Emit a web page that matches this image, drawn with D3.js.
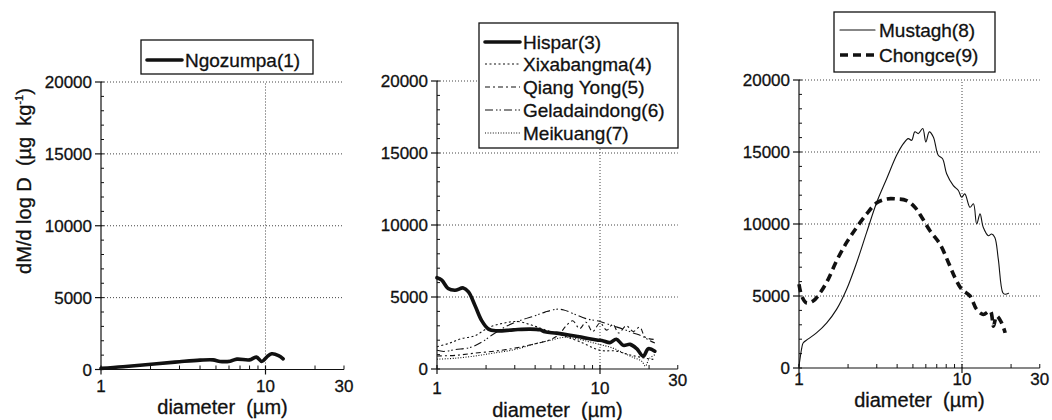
<!DOCTYPE html>
<html>
<head>
<meta charset="utf-8">
<script src="https://cdn.jsdelivr.net/npm/d3@7"></script>
<style>
  body { margin: 0; background: #fff; }
  svg { font-family: "Liberation Sans", Arial, sans-serif; }
  text { fill: #111; stroke: #111; stroke-width: 0.3px; white-space: pre; }
</style>
</head>
<body>
<svg id="chart" width="1052" height="420"></svg>
<script>
// [diameter (um), dM/dlogD (ug/kg)]
const ngozumpa = [
  [1, 80], [1.36, 190], [2.18, 400], [3.0, 540], [4.0, 650], [4.8, 670], [5.3, 560],
  [6.1, 580], [6.7, 720], [8.0, 670], [8.8, 860], [9.5, 560], [10.2, 880],
  [10.9, 1090], [12.0, 970], [12.8, 740]
];
const hispar = [
  [1, 6340], [1.07, 6170], [1.17, 5590], [1.29, 5470], [1.45, 5630], [1.56, 5350],
  [1.71, 4410], [1.88, 3360], [2.07, 2770], [2.32, 2650], [2.94, 2720], [3.72, 2770],
  [4.29, 2720], [4.6, 2580], [5.42, 2490], [6.55, 2350], [7.9, 2180], [9.55, 2020],
  [10.5, 1950], [11.5, 1830], [12.6, 2070], [13.9, 1640], [15.3, 1710], [16.8, 1410],
  [18.4, 890], [19.8, 1410], [21.7, 1240]
];
const xixabangma = [
  [1, 1550], [1.2, 1800], [1.4, 2100], [1.7, 2300], [2.1, 2900], [2.6, 3200],
  [3.1, 3300], [3.8, 3050], [4.8, 2650], [6.0, 2300], [7.5, 1900], [10, 1300],
  [12.5, 1250], [15, 1000], [18, 800], [21.7, 650]
];
const qiangYong = [
  [1, 900], [1.3, 950], [1.7, 1100], [2.3, 1250], [3.0, 1450], [4.0, 1750],
  [5.0, 2050], [5.6, 2400], [6.2, 3000], [6.8, 3350], [7.5, 2800], [8.2, 3250],
  [9.0, 2600], [10, 3200], [11, 2700], [12, 3100], [13, 2500], [14.5, 3000],
  [16, 2600], [17.5, 2900], [19, 2200], [21.7, 2050]
];
const geladaindong = [
  [1, 1300], [1.1, 1220], [1.3, 1350], [1.6, 1500], [1.9, 1900], [2.2, 2400],
  [2.7, 3000], [3.3, 3400], [4.0, 3700], [4.6, 3950], [5.4, 4150], [6.0, 4100],
  [7.0, 3800], [8.2, 3500], [10, 3300], [12, 3000], [14, 2750], [16, 2500],
  [18, 2300], [20, 2000], [21.7, 1800]
];
const meikuang = [
  [1, 680], [1.3, 750], [1.7, 900], [2.2, 1100], [3.0, 1350], [4.0, 1750],
  [5.0, 2000], [6.0, 2200], [7.2, 2100], [8.5, 1900], [10, 1700], [12, 1450],
  [14, 1100], [16, 800], [18, 550], [19, 200], [20, 700], [21.7, 1000]
];
const mustagh = [
  [1, 120], [1.04, 1400], [1.06, 1740], [1.14, 2020], [1.28, 2440], [1.48, 3140],
  [1.7, 4070], [1.96, 5470], [2.26, 7330], [2.6, 9420], [3.0, 11510], [3.45, 13140],
  [3.97, 14770], [4.37, 15580], [4.68, 15930], [4.91, 15810], [5.14, 16400],
  [5.4, 16280], [5.74, 16630], [6.0, 15700], [6.3, 16400], [6.67, 16050],
  [7.15, 14770], [7.6, 14530], [8.05, 13490], [8.85, 12670], [9.5, 12330],
  [9.95, 11860], [10.4, 12090], [11.2, 11160], [11.75, 11400], [12.3, 10000],
  [12.9, 10700], [13.5, 9770], [14.5, 9190], [15.2, 9300], [15.9, 9070],
  [16.7, 7560], [17.8, 5230], [18.4, 5120], [19.3, 5190]
];
const chongce = [
  [1, 5810], [1.04, 5000], [1.11, 4530], [1.22, 4650], [1.35, 5230], [1.51, 6160],
  [1.7, 7440], [1.96, 8720], [2.26, 9770], [2.6, 10700], [3.0, 11470], [3.45, 11740],
  [3.97, 11740], [4.57, 11630], [5.14, 11160], [5.66, 10470], [6.36, 9530],
  [7.33, 8600], [8.25, 7330], [9.05, 6280], [9.95, 5470], [11.2, 5000], [12.3, 4070],
  [13.5, 3720], [14.9, 3950], [15.6, 2910], [16.3, 3600], [17.5, 3140], [18.4, 2440]
];

const Y_TICKS = [0, 5000, 10000, 15000, 20000];
const X_TICKS = [1, 10, 30];
const X_MINOR = [2, 3, 4, 5, 6, 7, 8, 9, 20];

const STYLES = {
  thick: { width: 3.6, dash: null },
  thin: { width: 1.1, dash: null },
  dotA: { width: 1.1, dash: "2,2.5" },
  dashDot: { width: 1.1, dash: "5,3,2,3" },
  dashDotDot: { width: 1.1, dash: "8,3,1.5,2,1.5,3" },
  dotB: { width: 1.1, dash: "1,1.6" },
  thickDash: { width: 3.6, dash: "8,5" },
};

const PANELS = [
  {
    x0: 101, decade: 164.5, y0: 369.5, yTop: 82, yLabel: true,
    xLabelY: 414, tickY: 392, tick30Y: 392,
    legend: { x: 141, y: 40, w: 172, h: 34, rowY: [60], lineX: [147, 182], textX: 185 },
    series: [{ name: "Ngozumpa(1)", data: ngozumpa, style: "thick" }],
  },
  {
    x0: 437, decade: 163, y0: 369, yTop: 81, yLabel: false,
    xLabelY: 417, tickY: 394, tick30Y: 386,
    legend: { x: 479, y: 23, w: 199, h: 125, rowY: [42, 64, 87, 110, 133], lineX: [485, 520], textX: 523 },
    series: [
      { name: "Hispar(3)", data: hispar, style: "thick" },
      { name: "Xixabangma(4)", data: xixabangma, style: "dotA" },
      { name: "Qiang Yong(5)", data: qiangYong, style: "dashDot" },
      { name: "Geladaindong(6)", data: geladaindong, style: "dashDotDot" },
      { name: "Meikuang(7)", data: meikuang, style: "dotB" },
    ],
  },
  {
    x0: 799, decade: 163, y0: 368, yTop: 80, yLabel: false,
    xLabelY: 407, tickY: 385, tick30Y: 385,
    legend: { x: 834, y: 12, w: 161, h: 60, rowY: [30, 55], lineX: [840, 875], textX: 879 },
    series: [
      { name: "Mustagh(8)", data: mustagh, style: "thin" },
      { name: "Chongce(9)", data: chongce, style: "thickDash" },
    ],
  },
];

const svg = d3.select("#chart");

const applyStyle = (sel, key) => {
  const s = STYLES[key];
  sel.attr("fill", "none")
    .attr("stroke", "#111")
    .attr("stroke-width", s.width)
    .attr("stroke-linejoin", "round")
    .attr("stroke-linecap", s.dash ? "butt" : "round")
    .attr("stroke-dasharray", s.dash);
};

PANELS.forEach((p) => {
  const g = svg.append("g");
  const x = d3.scaleLog().domain([1, 30]).range([p.x0, p.x0 + p.decade * Math.log10(30)]);
  const y = d3.scaleLinear().domain([0, 20000]).range([p.y0, p.yTop]);
  const xEnd = x(30);

  // dotted grid
  g.selectAll(".hgrid")
    .data(Y_TICKS.filter((d) => d > 0))
    .join("line")
    .attr("x1", p.x0).attr("x2", xEnd)
    .attr("y1", (d) => y(d)).attr("y2", (d) => y(d))
    .attr("stroke", "#444").attr("stroke-width", 1).attr("stroke-dasharray", "1,2");
  g.append("line")
    .attr("x1", x(10)).attr("x2", x(10))
    .attr("y1", p.y0).attr("y2", p.yTop)
    .attr("stroke", "#444").attr("stroke-width", 1).attr("stroke-dasharray", "1,2");

  // y axis
  g.append("line").attr("x1", p.x0).attr("x2", p.x0).attr("y1", p.y0).attr("y2", p.yTop)
    .attr("stroke", "#111").attr("stroke-width", 1.2);
  g.selectAll(".yminor")
    .data(d3.range(0, 20001, 1000))
    .join("line")
    .attr("x1", p.x0).attr("x2", p.x0 + 3)
    .attr("y1", (d) => y(d)).attr("y2", (d) => y(d))
    .attr("stroke", "#111");
  g.selectAll(".ymajor")
    .data(Y_TICKS)
    .join("line")
    .attr("x1", p.x0 - 6).attr("x2", p.x0)
    .attr("y1", (d) => y(d)).attr("y2", (d) => y(d))
    .attr("stroke", "#111").attr("stroke-width", 1.2);
  g.selectAll(".ylab")
    .data(Y_TICKS)
    .join("text")
    .attr("x", p.x0 - 9)
    .attr("y", (d) => y(d) + 6)
    .attr("text-anchor", "end")
    .style("font-size", "17px")
    .text((d) => d);

  // x axis
  g.append("line").attr("x1", p.x0).attr("x2", xEnd).attr("y1", p.y0).attr("y2", p.y0)
    .attr("stroke", "#111").attr("stroke-width", 1.2);
  g.selectAll(".xminor")
    .data(X_MINOR.concat([30]))
    .join("line")
    .attr("x1", (d) => x(d)).attr("x2", (d) => x(d))
    .attr("y1", p.y0).attr("y2", p.y0 - 4)
    .attr("stroke", "#111");
  g.selectAll(".xmajor")
    .data([1, 10])
    .join("line")
    .attr("x1", (d) => x(d)).attr("x2", (d) => x(d))
    .attr("y1", p.y0 - 4).attr("y2", p.y0 + 5)
    .attr("stroke", "#111").attr("stroke-width", 1.2);
  g.selectAll(".xlab")
    .data(X_TICKS)
    .join("text")
    .attr("x", (d) => x(d))
    .attr("y", (d) => (d === 30 ? p.tick30Y : p.tickY))
    .attr("text-anchor", "middle")
    .style("font-size", "17px")
    .text((d) => d);

  g.append("text")
    .attr("x", (p.x0 + xEnd) / 2)
    .attr("y", p.xLabelY)
    .attr("text-anchor", "middle")
    .style("font-size", "20px")
    .text("diameter  (µm)");

  if (p.yLabel) {
    const t = g.append("text")
      .attr("transform", "translate(31,181) rotate(-90)")
      .attr("text-anchor", "middle")
      .style("font-size", "20px");
    t.append("tspan").text("dM/d log D  (µg  kg");
    t.append("tspan").attr("dy", -8).style("font-size", "11px").text("-1");
    t.append("tspan").attr("dy", 8).text(")");
  }

  // data lines
  const line = d3.line()
    .curve(d3.curveCatmullRom.alpha(0.5))
    .x((d) => x(d[0]))
    .y((d) => y(d[1]));
  p.series.slice().reverse().forEach((s) => {
    g.append("path").datum(s.data).attr("d", line).call(applyStyle, s.style);
  });

  // legend
  const L = p.legend;
  g.append("rect")
    .attr("x", L.x).attr("y", L.y).attr("width", L.w).attr("height", L.h)
    .attr("fill", "#fff").attr("stroke", "#111").attr("stroke-width", 1.3);
  p.series.forEach((s, i) => {
    g.append("line")
      .attr("x1", L.lineX[0]).attr("x2", L.lineX[1])
      .attr("y1", L.rowY[i]).attr("y2", L.rowY[i])
      .call(applyStyle, s.style);
    g.append("text")
      .attr("x", L.textX)
      .attr("y", L.rowY[i] + 7)
      .style("font-size", "19px")
      .text(s.name);
  });
});
</script>
</body>
</html>
